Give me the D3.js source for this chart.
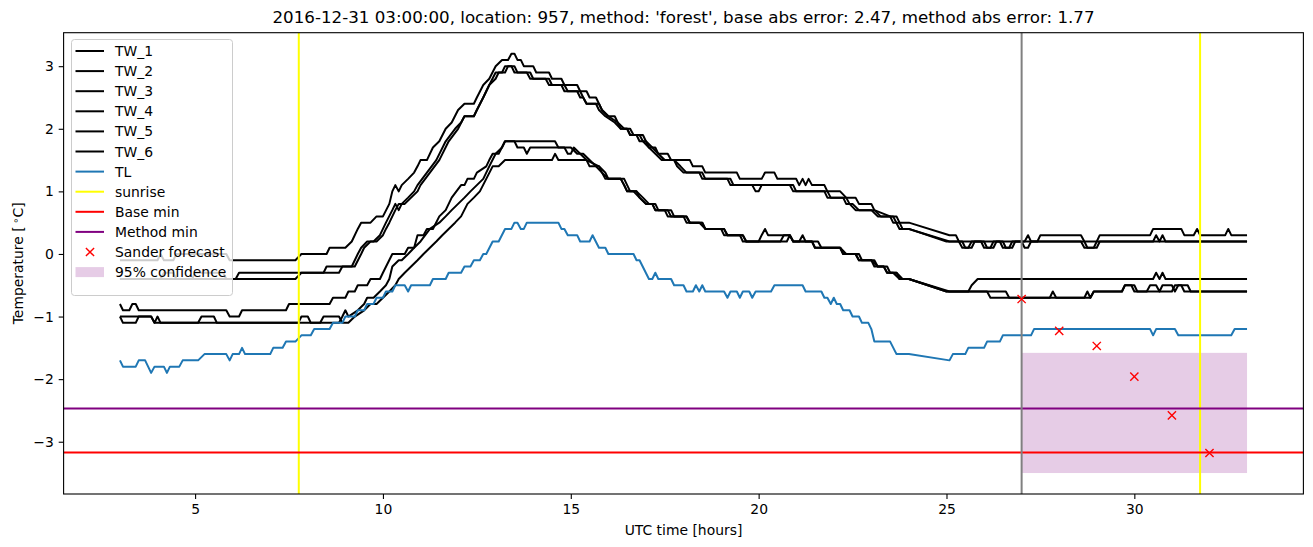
<!DOCTYPE html>
<html><head><meta charset="utf-8">
<script src="https://cdn.jsdelivr.net/npm/d3@7"></script>
<style>body{margin:0;background:#fff}svg{display:block}text{font-family:"DejaVu Sans",sans-serif;fill:#000}</style>
</head><body><svg id="c" width="1313" height="547"></svg>
<script>
const titleText = "2016-12-31 03:00:00, location: 957, method: 'forest', base abs error: 2.47, method abs error: 1.77";
const xTicks = [5,10,15,20,25,30];
const yTicks = [-3,-2,-1,0,1,2,3];
const seriesNames = ["TW_1","TW_2","TW_3","TW_4","TW_5","TW_6","TL"];
const TW_1 = [[3,-0.1],[4,-0.1],[4.08,0],[4.17,-0.1],[4.42,-0.1],[4.5,0],[5.83,0],[5.92,-0.1],[7.67,-0.1],[7.83,0],[8.5,0],[8.58,0.1],[9,0.1],[9.17,0.2],[9.33,0.4],[9.42,0.5],[9.67,0.5],[9.83,0.6],[10,0.6],[10.17,0.8],[10.25,1.0],[10.33,1.1],[10.42,1.0],[10.5,1.1],[10.67,1.2],[10.83,1.3],[10.92,1.4],[11,1.5],[11.17,1.5],[11.33,1.7],[11.5,1.8],[11.67,2.0],[11.83,2.1],[12,2.3],[12.17,2.4],[12.42,2.4],[12.5,2.5],[12.67,2.7],[12.83,2.8],[13,3.0],[13.17,3.1],[13.33,3.1],[13.42,3.2],[13.5,3.2],[13.58,3.1],[13.67,3.1],[13.75,3.0],[14,3.0],[14.08,2.9],[14.42,2.9],[14.5,2.8],[14.75,2.8],[14.83,2.7],[15.17,2.7],[15.25,2.6],[15.42,2.6],[15.5,2.5],[15.67,2.5],[15.83,2.3],[16,2.2],[16.17,2.2],[16.33,2.0],[16.5,2.0],[16.58,1.9],[16.75,1.9],[16.83,1.8],[17,1.8],[17.08,1.7],[17.25,1.7],[17.33,1.6],[17.58,1.6],[17.67,1.5],[18.17,1.5],[18.25,1.4],[18.5,1.4],[18.58,1.3],[19.42,1.3],[19.5,1.2],[20.08,1.2],[20.17,1.3],[20.42,1.3],[20.5,1.2],[21,1.2],[21.08,1.1],[21.17,1.2],[21.25,1.1],[21.33,1.2],[21.42,1.1],[21.75,1.1],[21.83,1.0],[22.17,1.0],[22.33,0.9],[22.58,0.9],[22.67,0.8],[23,0.8],[23.08,0.7],[23.5,0.6],[23.58,0.5],[24,0.5],[25.08,0.3],[25.25,0.3],[25.33,0.2],[27.08,0.2],[27.17,0.3],[27.25,0.2],[27.42,0.2],[27.5,0.3],[28.58,0.3],[28.67,0.2],[29,0.2],[29.08,0.3],[30.42,0.3],[30.5,0.4],[31.25,0.4],[31.33,0.3],[31.58,0.3],[31.67,0.4],[31.75,0.3],[32.42,0.3],[32.5,0.4],[32.58,0.3],[33,0.3]];
const TW_2 = [[3,-0.4],[6.08,-0.4],[6.17,-0.3],[8.42,-0.3],[8.5,-0.2],[9.17,-0.2],[9.33,0.0],[9.42,0.1],[9.58,0.2],[9.75,0.2],[9.92,0.3],[10.0,0.4],[10.08,0.5],[10.25,0.7],[10.33,0.8],[10.42,0.7],[10.5,0.8],[10.67,0.9],[10.83,1.0],[10.92,1.1],[11.17,1.3],[11.42,1.5],[11.67,1.8],[11.92,2.0],[12.08,2.1],[12.17,2.2],[12.42,2.2],[12.5,2.3],[12.67,2.5],[12.83,2.7],[13.0,2.9],[13.17,2.9],[13.25,3.0],[13.42,3.0],[13.5,2.9],[13.83,2.9],[13.92,2.8],[14.33,2.8],[14.42,2.7],[14.75,2.7],[14.83,2.6],[15.17,2.6],[15.25,2.5],[15.33,2.5],[15.42,2.4],[15.67,2.4],[15.75,2.3],[15.92,2.2],[16.17,2.1],[16.33,2.0],[16.5,2.0],[16.58,1.9],[16.83,1.9],[16.92,1.8],[17.08,1.7],[17.25,1.6],[17.42,1.5],[17.75,1.5],[17.83,1.4],[18.0,1.3],[18.42,1.3],[18.5,1.2],[19.17,1.2],[19.25,1.1],[19.83,1.1],[19.92,1.0],[20.0,1.0],[20.08,1.1],[20.83,1.1],[20.92,1.0],[21.75,1.0],[21.83,0.9],[22.25,0.9],[22.33,0.8],[22.42,0.8],[22.58,0.7],[23.0,0.7],[23.17,0.6],[23.58,0.6],[23.75,0.4],[24.0,0.4],[25.0,0.2],[25.33,0.2],[25.42,0.1],[25.58,0.1],[25.67,0.2],[25.92,0.2],[26.0,0.1],[26.17,0.1],[26.25,0.2],[26.42,0.2],[26.5,0.1],[26.67,0.1],[26.75,0.2],[28.58,0.2],[28.67,0.1],[28.92,0.1],[29.0,0.2],[30.5,0.2],[30.58,0.3],[30.67,0.2],[30.75,0.3],[30.83,0.2],[33,0.2]];
const TW_3 = [[3,-0.4],[4.08,-0.4],[4.17,-0.3],[4.42,-0.3],[4.5,-0.4],[4.92,-0.4],[5.0,-0.3],[5.75,-0.3],[5.83,-0.4],[7.67,-0.4],[7.83,-0.3],[8.83,-0.3],[8.92,-0.2],[9.25,-0.2],[9.42,0.0],[9.5,0.1],[9.67,0.2],[9.83,0.2],[10.0,0.3],[10.08,0.4],[10.17,0.5],[10.33,0.7],[10.42,0.8],[10.58,0.8],[10.75,0.9],[10.92,1.0],[11.0,1.1],[11.25,1.3],[11.5,1.5],[11.75,1.8],[12.0,2.0],[12.17,2.2],[12.42,2.2],[12.5,2.3],[12.67,2.5],[12.83,2.7],[13.0,2.8],[13.08,2.9],[13.25,2.9],[13.33,3.0],[13.5,3.0],[13.58,2.9],[13.92,2.9],[14.0,2.8],[14.42,2.8],[14.5,2.7],[14.83,2.7],[14.92,2.6],[15.25,2.6],[15.33,2.5],[15.42,2.4],[15.75,2.4],[15.83,2.3],[16.0,2.2],[16.25,2.1],[16.42,2.0],[16.58,2.0],[16.67,1.9],[16.92,1.9],[17.0,1.8],[17.17,1.7],[17.33,1.6],[17.5,1.5],[17.75,1.5],[17.92,1.4],[18.08,1.3],[18.5,1.3],[18.58,1.2],[19.25,1.2],[19.33,1.1],[20.92,1.1],[21.0,1.0],[21.83,1.0],[21.92,0.9],[22.33,0.9],[22.42,0.8],[22.5,0.8],[22.67,0.7],[23.08,0.7],[23.25,0.6],[23.67,0.6],[23.83,0.4],[24.0,0.4],[25.08,0.2],[25.42,0.2],[25.5,0.1],[25.67,0.1],[25.75,0.2],[26.0,0.2],[26.08,0.1],[26.25,0.1],[26.33,0.2],[26.5,0.2],[26.58,0.1],[26.75,0.1],[26.83,0.2],[27.0,0.2],[27.08,0.1],[27.17,0.1],[27.25,0.2],[28.67,0.2],[28.75,0.1],[29.0,0.1],[29.08,0.2],[33,0.2]];
const TW_4 = [[3,-0.8],[3.08,-0.9],[3.25,-0.9],[3.33,-0.8],[3.42,-0.8],[3.5,-0.9],[5.83,-0.9],[5.92,-1.0],[6.17,-1.0],[6.25,-0.9],[7.42,-0.9],[7.5,-0.8],[8.58,-0.8],[8.67,-0.7],[9.0,-0.7],[9.08,-0.6],[9.25,-0.6],[9.33,-0.5],[9.58,-0.5],[9.67,-0.4],[9.92,-0.4],[10.0,-0.3],[10.25,0.0],[10.58,0.0],[10.67,0.1],[10.83,0.1],[10.92,0.3],[11.08,0.3],[11.17,0.4],[11.33,0.4],[11.5,0.6],[11.67,0.7],[11.83,0.9],[12.08,1.1],[12.17,1.1],[12.25,1.2],[12.42,1.2],[12.5,1.3],[12.75,1.4],[12.83,1.5],[12.92,1.6],[13.08,1.6],[13.25,1.8],[14.58,1.8],[14.67,1.7],[15.0,1.7],[15.17,1.6],[15.33,1.6],[15.5,1.5],[15.67,1.4],[15.83,1.3],[16.0,1.2],[16.33,1.2],[16.42,1.1],[16.5,1.0],[16.67,1.0],[16.83,0.9],[17.0,0.8],[17.17,0.8],[17.25,0.7],[17.5,0.7],[17.58,0.6],[18.0,0.6],[18.08,0.5],[18.42,0.5],[18.58,0.4],[19.0,0.4],[19.08,0.3],[19.5,0.3],[19.58,0.2],[20.0,0.2],[20.08,0.3],[20.17,0.4],[20.25,0.3],[20.83,0.3],[20.92,0.2],[21.42,0.2],[21.5,0.1],[22.17,0.1],[22.25,0.0],[22.58,0.0],[22.67,-0.1],[23.0,-0.1],[23.17,-0.2],[23.33,-0.2],[23.42,-0.3],[23.67,-0.3],[23.75,-0.4],[24.0,-0.4],[25.0,-0.6],[25.58,-0.6],[25.67,-0.5],[25.83,-0.4],[30.5,-0.4],[30.58,-0.3],[30.67,-0.4],[30.75,-0.3],[30.83,-0.4],[33,-0.4]];
const TW_5 = [[3,-1.0],[3.83,-1.0],[3.92,-1.1],[5.08,-1.1],[5.17,-1.0],[5.5,-1.0],[5.58,-1.1],[7.75,-1.1],[7.83,-1.0],[8.0,-1.0],[8.08,-1.1],[8.83,-1.1],[8.92,-1.0],[9.0,-0.9],[9.08,-1.0],[9.33,-0.9],[9.5,-0.8],[9.58,-0.7],[9.75,-0.7],[9.92,-0.6],[10.08,-0.5],[10.17,-0.4],[10.25,-0.2],[10.42,-0.1],[10.5,-0.1],[10.67,0.0],[10.83,0.1],[11.0,0.2],[11.25,0.4],[11.5,0.5],[11.67,0.6],[11.83,0.7],[12.0,0.8],[12.17,0.9],[12.33,1.0],[12.5,1.1],[12.67,1.2],[12.83,1.4],[13.0,1.6],[13.17,1.7],[13.25,1.8],[13.5,1.8],[13.58,1.7],[13.75,1.7],[13.83,1.6],[13.92,1.7],[14.83,1.7],[14.92,1.6],[15.0,1.6],[15.08,1.7],[15.25,1.6],[15.42,1.5],[15.75,1.4],[15.92,1.3],[16.0,1.2],[16.42,1.2],[16.5,1.1],[16.58,1.0],[16.75,1.0],[16.92,0.9],[17.08,0.8],[17.25,0.8],[17.33,0.7],[17.67,0.7],[17.75,0.6],[18.08,0.6],[18.17,0.5],[18.5,0.5],[18.58,0.4],[19.08,0.4],[19.17,0.3],[19.58,0.3],[19.67,0.2],[20.58,0.2],[20.67,0.3],[20.83,0.3],[20.92,0.2],[21.08,0.2],[21.17,0.3],[21.25,0.2],[21.58,0.2],[21.67,0.1],[22.17,0.1],[22.33,0.0],[22.67,0.0],[22.75,-0.1],[23.08,-0.1],[23.17,-0.2],[23.42,-0.2],[23.5,-0.3],[23.67,-0.3],[23.83,-0.4],[24.0,-0.4],[25.08,-0.6],[26.08,-0.6],[26.17,-0.7],[27.75,-0.7],[27.83,-0.6],[27.92,-0.7],[28.67,-0.7],[28.75,-0.6],[28.83,-0.7],[28.92,-0.6],[29.67,-0.6],[29.75,-0.5],[29.92,-0.5],[30.0,-0.6],[30.33,-0.6],[30.42,-0.5],[30.58,-0.5],[30.67,-0.6],[30.75,-0.5],[31.0,-0.5],[31.08,-0.6],[31.17,-0.5],[31.42,-0.5],[31.5,-0.6],[33,-0.6]];
const TW_6 = [[3,-1.0],[3.08,-1.1],[3.42,-1.1],[3.5,-1.0],[3.83,-1.0],[3.92,-1.1],[4.0,-1.0],[4.08,-1.1],[8.33,-1.1],[8.42,-1.0],[8.83,-1.0],[8.92,-1.1],[9.08,-1.1],[9.25,-1.0],[9.5,-0.9],[9.67,-0.8],[9.83,-0.8],[10.0,-0.7],[10.17,-0.6],[10.33,-0.5],[10.42,-0.4],[10.58,-0.3],[10.75,-0.2],[10.92,-0.1],[11.08,0.0],[11.25,0.1],[11.42,0.2],[11.58,0.3],[11.75,0.4],[11.92,0.5],[12.08,0.6],[12.25,0.8],[12.42,0.9],[12.58,1.0],[12.75,1.2],[12.92,1.4],[13.08,1.4],[13.25,1.5],[14.5,1.5],[14.58,1.6],[14.67,1.5],[15.42,1.5],[15.5,1.4],[15.75,1.4],[15.83,1.3],[15.92,1.2],[16.33,1.2],[16.42,1.1],[16.5,1.0],[16.75,1.0],[16.83,0.9],[17.0,0.8],[17.17,0.8],[17.25,0.7],[17.58,0.7],[17.67,0.6],[18.08,0.6],[18.17,0.5],[18.5,0.5],[18.58,0.4],[19.08,0.4],[19.17,0.3],[19.58,0.3],[19.67,0.2],[20.75,0.2],[20.83,0.3],[20.92,0.2],[21.42,0.2],[21.5,0.1],[22.17,0.1],[22.25,0.0],[22.58,0.0],[22.67,-0.1],[23.0,-0.1],[23.08,-0.2],[23.33,-0.2],[23.42,-0.3],[23.58,-0.3],[23.75,-0.4],[24.0,-0.4],[25.0,-0.6],[26.58,-0.6],[26.67,-0.7],[28.83,-0.7],[28.92,-0.6],[29.67,-0.6],[29.75,-0.5],[30.0,-0.5],[30.08,-0.6],[31.0,-0.6],[31.08,-0.5],[31.25,-0.5],[31.33,-0.6],[33,-0.6]];
const TL = [[3,-1.7],[3.08,-1.8],[3.42,-1.8],[3.5,-1.7],[3.67,-1.7],[3.83,-1.9],[3.92,-1.8],[4.17,-1.8],[4.25,-1.9],[4.33,-1.8],[4.58,-1.8],[4.67,-1.7],[5.08,-1.7],[5.25,-1.6],[5.83,-1.6],[5.92,-1.7],[6.0,-1.6],[6.17,-1.6],[6.25,-1.5],[6.33,-1.6],[7.0,-1.6],[7.08,-1.5],[7.33,-1.5],[7.42,-1.4],[7.67,-1.4],[7.83,-1.3],[8.08,-1.3],[8.17,-1.2],[8.58,-1.2],[8.67,-1.1],[8.92,-1.1],[9.0,-1.0],[9.25,-1.0],[9.33,-0.9],[9.5,-0.9],[9.58,-0.8],[9.75,-0.8],[9.83,-0.7],[10.0,-0.7],[10.08,-0.6],[10.25,-0.6],[10.33,-0.5],[10.58,-0.5],[10.67,-0.6],[10.75,-0.5],[11.25,-0.5],[11.33,-0.4],[11.67,-0.4],[11.75,-0.3],[12.08,-0.3],[12.17,-0.2],[12.33,-0.2],[12.42,-0.1],[12.58,-0.1],[12.67,0.0],[12.75,0.0],[12.92,0.2],[13.08,0.2],[13.25,0.4],[13.42,0.4],[13.5,0.5],[13.58,0.5],[13.67,0.4],[13.75,0.4],[13.83,0.5],[14.67,0.5],[14.75,0.4],[14.83,0.4],[14.92,0.3],[15.17,0.3],[15.25,0.2],[15.5,0.2],[15.58,0.3],[15.75,0.1],[15.92,0.1],[16.0,0.0],[16.67,0.0],[16.75,-0.1],[16.83,-0.1],[17.08,-0.4],[17.17,-0.4],[17.25,-0.3],[17.33,-0.4],[17.67,-0.4],[17.75,-0.5],[18.0,-0.5],[18.08,-0.6],[18.25,-0.6],[18.33,-0.5],[18.42,-0.6],[18.5,-0.5],[18.58,-0.6],[19.08,-0.6],[19.17,-0.7],[19.25,-0.6],[19.42,-0.6],[19.5,-0.7],[19.58,-0.6],[19.75,-0.6],[19.83,-0.7],[19.92,-0.6],[20.33,-0.6],[20.42,-0.5],[21.17,-0.5],[21.25,-0.6],[21.67,-0.6],[21.75,-0.7],[21.83,-0.7],[21.92,-0.8],[22.0,-0.7],[22.08,-0.8],[22.17,-0.8],[22.25,-0.9],[22.42,-0.9],[22.5,-1.0],[22.67,-1.0],[22.75,-1.1],[22.92,-1.1],[23.0,-1.2],[23.08,-1.4],[23.5,-1.4],[23.67,-1.6],[24.0,-1.6],[25.08,-1.7],[25.17,-1.6],[25.5,-1.6],[25.58,-1.5],[26.0,-1.5],[26.08,-1.4],[26.42,-1.4],[26.5,-1.3],[27.25,-1.3],[27.33,-1.2],[30.42,-1.2],[30.5,-1.3],[30.58,-1.2],[31.08,-1.2],[31.17,-1.3],[32.58,-1.3],[32.67,-1.2],[33,-1.2]];
const sunriseTimes = [7.76, 31.75];
const forecastTime = 27;
const baseMin = -3.17;
const methodMin = -2.47;
const sanderTimes = [27,28,29,30,31,32];
const sanderValues = [-0.72,-1.23,-1.47,-1.96,-2.58,-3.18];
const confidence = {t0:27, t1:33, lo:-3.5, hi:-1.58};
const legendLabels = ["TW_1","TW_2","TW_3","TW_4","TW_5","TW_6","TL","sunrise","Base min","Method min","Sander forecast","95% confidence"];

const svg = d3.select("#c");
const L=63.6, R=1303.4, T=32.7, B=494;
const x = d3.scaleLinear().domain([1.5,34.5]).range([L,R]);
const y = d3.scaleLinear().domain([-3.835,3.535]).range([B,T]);
const FS = 13.9;
const LW = 2.0;

svg.append("defs").append("clipPath").attr("id","clip").append("rect")
  .attr("x",L).attr("y",T).attr("width",R-L).attr("height",B-T);
const g = svg.append("g").attr("clip-path","url(#clip)");

g.append("rect").attr("x",x(confidence.t0)).attr("width",x(confidence.t1)-x(confidence.t0))
  .attr("y",y(confidence.hi)).attr("height",y(confidence.lo)-y(confidence.hi))
  .attr("fill","purple").attr("fill-opacity",0.2);

const line = d3.line().x(d=>x(d[0])).y(d=>y(d[1]));
const allSeries = [TW_1,TW_2,TW_3,TW_4,TW_5,TW_6,TL];
const colors = ["#000","#000","#000","#000","#000","#000","#1f77b4"];
allSeries.forEach((s,i)=>{
  g.append("path").attr("d",line(s)).attr("fill","none").attr("stroke",colors[i])
   .attr("stroke-width",LW).attr("stroke-linejoin","round").attr("stroke-linecap","butt");
});
sunriseTimes.forEach(t=>{
  g.append("line").attr("x1",x(t)).attr("x2",x(t)).attr("y1",T).attr("y2",B)
   .attr("stroke","#ffff00").attr("stroke-width",LW);
});
g.append("line").attr("x1",L).attr("x2",R).attr("y1",y(baseMin)).attr("y2",y(baseMin))
  .attr("stroke","red").attr("stroke-width",LW);
g.append("line").attr("x1",L).attr("x2",R).attr("y1",y(methodMin)).attr("y2",y(methodMin))
  .attr("stroke","purple").attr("stroke-width",LW);
g.append("line").attr("x1",x(forecastTime)).attr("x2",x(forecastTime)).attr("y1",T).attr("y2",B)
  .attr("stroke","grey").attr("stroke-width",LW);
const ms = 4.1;
sanderTimes.forEach((t,i)=>{
  const cx=x(t), cy=y(sanderValues[i]);
  g.append("path").attr("d",`M${cx-ms},${cy-ms}L${cx+ms},${cy+ms}M${cx-ms},${cy+ms}L${cx+ms},${cy-ms}`)
   .attr("stroke","red").attr("stroke-width",1.4).attr("fill","none");
});

const xAxis = svg.append("g").attr("transform",`translate(0,${B})`)
  .call(d3.axisBottom(x).tickValues(xTicks).tickSize(4.9).tickPadding(4.9).tickFormat(d3.format("d")));
const yAxis = svg.append("g").attr("transform",`translate(${L},0)`)
  .call(d3.axisLeft(y).tickValues(yTicks).tickSize(4.9).tickPadding(4.9).tickFormat(d=>d<0?"\u2212"+Math.abs(d):d));
[xAxis,yAxis].forEach(a=>{
  a.select(".domain").remove();
  a.selectAll("text").attr("font-size",FS).attr("font-family","DejaVu Sans").attr("fill","#000");
  a.selectAll("line").attr("stroke","#000").attr("stroke-width",1.1);
});
svg.append("rect").attr("x",L).attr("y",T).attr("width",R-L).attr("height",B-T)
  .attr("fill","none").attr("stroke","#000").attr("stroke-width",1.1);

svg.append("text").attr("x",(L+R)/2).attr("y",23).attr("text-anchor","middle")
  .attr("font-size",16.7).text(titleText);
svg.append("text").attr("x",(L+R)/2).attr("y",535).attr("text-anchor","middle")
  .attr("font-size",FS).text("UTC time [hours]");
const yl = svg.append("text").attr("transform",`translate(23,${(T+B)/2}) rotate(-90)`)
  .attr("text-anchor","middle").attr("font-size",FS);
yl.append("tspan").text("Temperature [\u2009");
yl.append("tspan").attr("dy","-0.45em").attr("font-size",FS*0.7).text("\u2218");
yl.append("tspan").attr("dy","0.32em").text("C]");

const lg = svg.append("g");
lg.append("rect").attr("x",71.5).attr("y",39.5).attr("width",161).attr("height",256).attr("rx",3)
  .attr("fill","#fff").attr("fill-opacity",0.8).attr("stroke","#cccccc").attr("stroke-width",1);
const legColors = ["#000","#000","#000","#000","#000","#000","#1f77b4","#ffff00","red","purple"];
legendLabels.forEach((lab,i)=>{
  const cy = 51 + i*20.1;
  if(i<10){
    lg.append("line").attr("x1",75.5).attr("x2",104).attr("y1",cy).attr("y2",cy)
      .attr("stroke",legColors[i]).attr("stroke-width",LW);
  } else if(i===10){
    const cx=90;
    lg.append("path").attr("d",`M${cx-ms},${cy-ms}L${cx+ms},${cy+ms}M${cx-ms},${cy+ms}L${cx+ms},${cy-ms}`)
      .attr("stroke","red").attr("stroke-width",1.4);
  } else {
    lg.append("rect").attr("x",75.5).attr("y",cy-5).attr("width",28.5).attr("height",10)
      .attr("fill","purple").attr("fill-opacity",0.2);
  }
  lg.append("text").attr("x",115).attr("y",cy).attr("dy","0.36em").attr("font-size",FS).text(lab);
});
</script></body></html>
